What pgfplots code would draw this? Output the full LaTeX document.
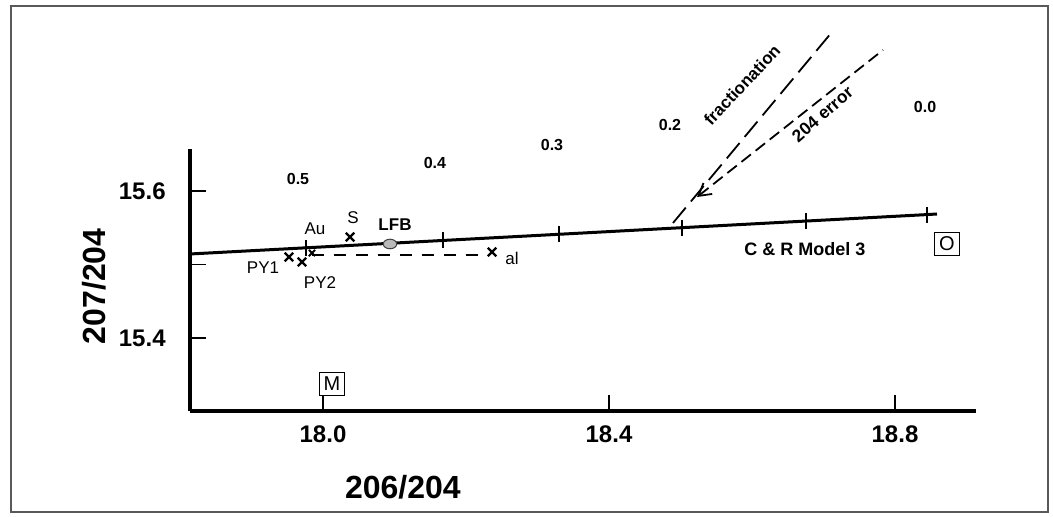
\documentclass[border=0pt]{standalone}
\usepackage{fontspec}
\setmainfont{Liberation Sans}
\usepackage{pgfplots}
\pgfplotsset{compat=1.18}
\usetikzlibrary{arrows.meta}
\begin{document}
\begin{tikzpicture}
\begin{axis}[
  x=357.5pt, y=367.5pt,
  xmin=17.814, xmax=18.913, ymin=15.3, ymax=15.657,
  axis x line=bottom, axis y line=left,
  axis line style={line width=2pt, -},
  xtick={18.0,18.4,18.8}, xticklabels={18.0,18.4,18.8},
  ytick={15.4,15.5,15.6}, yticklabels={15.4,,15.6},
  tick align=inside, major tick length=8pt,
  tick style={line width=0.7pt, black},
  /pgf/number format/assume math mode=true,
  tick label style={font=\bfseries\fontsize{12}{14}\selectfont},
  xticklabel style={anchor=north, inner sep=0pt, yshift=-7pt},
  yticklabel style={anchor=east, inner sep=0pt, xshift=-12pt},
  xlabel={206/204}, ylabel={207/204},
  label style={font=\bfseries\fontsize{16}{18}\selectfont},
  xlabel style={at={(axis description cs:0.271,-0.29)}, anchor=center},
  ylabel style={at={(axis description cs:-0.122,0.477)}, anchor=center},
  clip=false,
]
% bounding box and frame
\path (17.54825,15.15646) rectangle (19.02098,15.85986);
\draw[gray!70!black, line width=1pt] (17.56364,15.16327) rectangle (19.01399,15.85170);

% C & R Model 3 line
\addplot[black, line width=1.5pt, no marks] coordinates {
 (17.8140,15.5143) (17.9762,15.5227) (18.1678,15.5327) (18.3301,15.5411)
 (18.5021,15.5501) (18.6755,15.5591) (18.8448,15.5679) (18.8587,15.5687)};
% ticks on model line
\addplot[only marks, mark=|, mark size=4pt, mark options={line width=0.7pt}] coordinates {
 (17.9762,15.5227) (18.1678,15.5327) (18.3301,15.5411)
 (18.5021,15.5501) (18.6755,15.5591) (18.8448,15.5679)};

% dashed horizontal line
\addplot[black, line width=0.9pt, dash pattern=on 6pt off 5pt, no marks] coordinates {
 (17.9846,15.5129) (18.2300,15.5129)};

% fractionation line
\addplot[black, line width=0.9pt, dash pattern=on 10pt off 4pt, no marks] coordinates {
 (18.4895,15.5565) (18.7119,15.8163)};
% 204 error line
\addplot[black, line width=0.9pt, dash pattern=on 6pt off 3pt, no marks,
  {Straight Barb[length=6pt, width=7pt]}-] coordinates {
 (18.5231,15.5918) (18.7832,15.7918)};

% x samples
\addplot[only marks, mark=x, mark size=3pt, mark options={line width=1.2pt}] coordinates {
 (17.9524,15.5102) (17.9706,15.5034) (18.0378,15.5374) (18.2364,15.5170)};
\addplot[only marks, mark=x, mark size=2.2pt, mark options={line width=1pt}] coordinates {
 (17.9846,15.5156)};
% LFB
\addplot[only marks, mark=*, mark size=2.4pt,
  mark options={xscale=1.4, fill=gray!55, draw=gray!50!black, line width=0.5pt}] coordinates {
 (18.0937,15.5279)};

% labels
\begin{scope}[every node/.style={font=\fontsize{8.5}{10}\selectfont}]
\node at (17.9888,15.5483) {Au};
\node at (18.0420,15.5633) {S};
\node at (17.9161,15.4952) {PY1};
\node at (17.9958,15.4748) {PY2};
\node at (18.2643,15.5088) {al};
\node[font=\bfseries\fontsize{8.5}{10}\selectfont] at (18.1007,15.5537) {LFB};
\node[font=\bfseries\fontsize{8}{10}\selectfont] at (17.9650,15.6163) {0.5};
\node[font=\bfseries\fontsize{8}{10}\selectfont] at (18.1566,15.6381) {0.4};
\node[font=\bfseries\fontsize{8}{10}\selectfont] at (18.3203,15.6626) {0.3};
\node[font=\bfseries\fontsize{8}{10}\selectfont] at (18.4853,15.6898) {0.2};
\node[font=\bfseries\fontsize{8}{10}\selectfont] at (18.8420,15.7143) {0.0};
\node[font=\bfseries\fontsize{8.5}{10}\selectfont, rotate=47] at (18.5860,15.7442) {fractionation};
\node[font=\bfseries\fontsize{8.7}{10}\selectfont, rotate=41] at (18.6985,15.7045) {204 error};
\node[font=\bfseries\fontsize{9}{10}\selectfont] at (18.6741,15.5211) {C \& R Model 3};
\end{scope}
\node[draw, line width=0.6pt, inner sep=2.2pt, font=\fontsize{10}{12}\selectfont] at (18.8727,15.5279) {O};
\node[draw, line width=0.6pt, inner sep=2.2pt, font=\fontsize{10}{12}\selectfont] at (18.0126,15.3374) {M};
\end{axis}
\end{tikzpicture}
\end{document}
